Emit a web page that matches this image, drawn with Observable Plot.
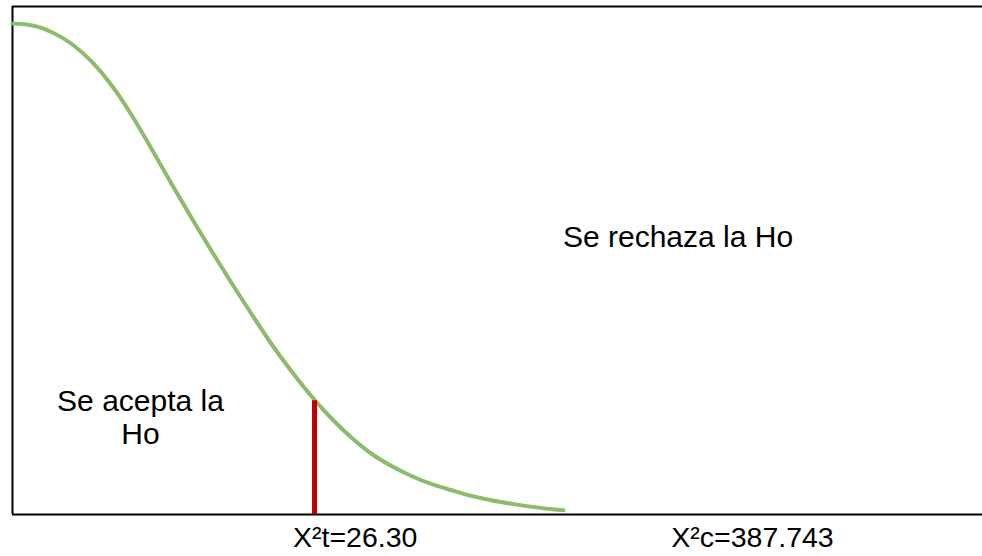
<!DOCTYPE html>
<html><head><meta charset="utf-8">
<script src="https://cdn.jsdelivr.net/npm/d3@7"></script>
<script src="https://cdn.jsdelivr.net/npm/@observablehq/plot@0.6"></script>
<style>body{margin:0;background:#fff}</style>
</head><body><div id="chart"></div>
<script>
// Density curve (x in arbitrary units, y in % of frame height)
const curveX = [0, 20, 40, 60, 80, 100, 120, 140, 160, 180, 200, 220, 240, 260, 280, 300, 320, 340, 360, 380, 400, 420, 440, 460, 480, 500, 520, 540, 551];
const curveY = [96.65, 96.26, 94.88, 92.52, 88.98, 84.25, 78.35, 71.65, 64.76, 58.07, 51.57, 45.28, 39.17, 33.27, 27.95, 23.03, 18.70, 14.96, 11.81, 9.45, 7.48, 5.91, 4.72, 3.62, 2.76, 2.09, 1.50, 1.02, 0.83];

// Critical value marker
const criticalX = [302];
const criticalTop = [22.4];

// Region labels
const regionLabels = ["Se rechaza la Ho", "Se acepta la\nHo"];
const regionX = [665.5, 128];
const regionY = [52.6, 13.8];

// Labels under the axis
const tickLabels = ["X\u00B2t=26.30", "X\u00B2c=387.743"];
const tickX = [342.7, 740];
const tickY = [-6.4, -6.4];

const curve = curveX.map((x, i) => ({x, y: curveY[i]}));
const crit = criticalX.map((x, i) => ({x, top: criticalTop[i]}));
const regions = regionLabels.map((t, i) => ({t, x: regionX[i], y: regionY[i]}));
const ticks = tickLabels.map((t, i) => ({t, x: tickX[i], y: tickY[i]}));

const chart = Plot.plot({
  width: 982,
  height: 556,
  marginLeft: 12,
  marginRight: 0,
  marginTop: 6,
  marginBottom: 42,
  x: {domain: [0, 970], axis: null},
  y: {domain: [0, 100], axis: null},
  style: {fontFamily: "'Liberation Sans', Arial, sans-serif", background: "white", overflow: "visible"},
  marks: [
    Plot.ruleY([0, 100], {stroke: "#000", strokeWidth: 2}),
    Plot.ruleX([0], {stroke: "#000", strokeWidth: 2}),
    Plot.line(curve, {x: "x", y: "y", stroke: "#8cbb6c", strokeWidth: 4, curve: "monotone-x"}),
    Plot.ruleX(crit, {x: "x", y1: 0, y2: "top", stroke: "#c00000", strokeWidth: 5}),
    Plot.text(regions, {x: "x", y: "y", text: "t", fontSize: 30, fill: "#000", lineAnchor: "bottom", lineHeight: 1.12}),
    Plot.text(ticks, {x: "x", y: "y", text: "t", fontSize: 28.5, fill: "#000", lineAnchor: "bottom"})
  ]
});
document.getElementById("chart").appendChild(chart);
</script>
</body></html>
